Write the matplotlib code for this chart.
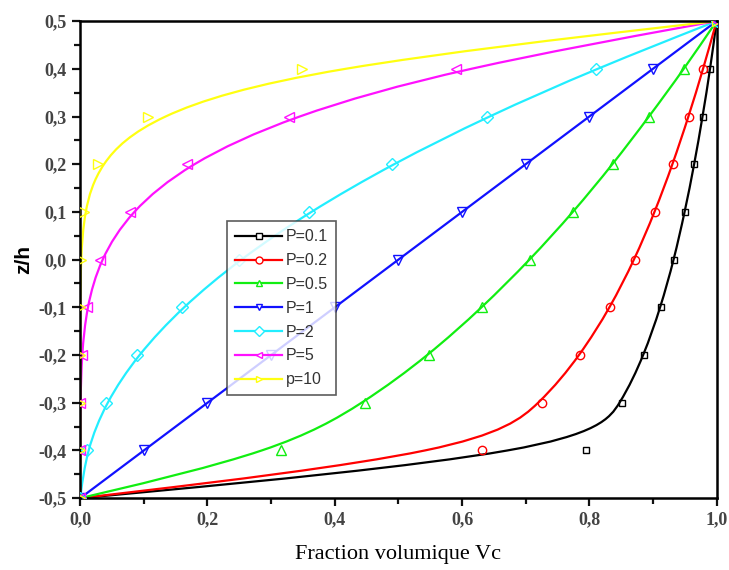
import numpy as np
import matplotlib.pyplot as plt
from matplotlib.path import Path
from matplotlib.patches import PathPatch
from matplotlib.lines import Line2D
from matplotlib.ticker import MultipleLocator, FuncFormatter

# z/h positions (same for every curve)
z_h = [-0.5, -0.4, -0.3, -0.2, -0.1, 0.0, 0.1, 0.2, 0.3, 0.4, 0.5]

# volume fraction Vc for each exponent p
vc_p01 = [0.0, 0.794, 0.851, 0.886, 0.912, 0.933, 0.950, 0.965, 0.978, 0.990, 1.0]
vc_p02 = [0.0, 0.631, 0.725, 0.786, 0.833, 0.871, 0.903, 0.931, 0.956, 0.979, 1.0]
vc_p05 = [0.0, 0.316, 0.447, 0.548, 0.632, 0.707, 0.775, 0.837, 0.894, 0.949, 1.0]
vc_p1 = [0.0, 0.1, 0.2, 0.3, 0.4, 0.5, 0.6, 0.7, 0.8, 0.9, 1.0]
vc_p2 = [0.0, 0.01, 0.04, 0.09, 0.16, 0.25, 0.36, 0.49, 0.64, 0.81, 1.0]
vc_p5 = [0.0, 0.0, 0.0003, 0.0024, 0.010, 0.031, 0.078, 0.168, 0.328, 0.590, 1.0]
vc_p10 = [0.0, 0.0, 0.0, 0.0, 0.0001, 0.001, 0.006, 0.028, 0.107, 0.349, 1.0]

labels = ['P=0.1', 'P=0.2', 'P=0.5', 'P=1', 'P=2', 'P=5', 'p=10']
series = [vc_p01, vc_p02, vc_p05, vc_p1, vc_p2, vc_p5, vc_p10]
colors = ['#000000', '#ff0000', '#11ee11', '#1111ff', '#22eeff', '#ff11ff', '#ffff11']
markers = ['s', 'o', '^', 'v', 'D', '<', '>']
msizes = [5, 6, 7, 7, 6, 7, 7]


def bspline_path(xs, ys):
    # clamped cubic B-spline, written as bezier pieces
    p = [np.array(q) for q in zip(xs, ys)]
    p = [p[0], p[0]] + p + [p[-1], p[-1]]
    verts, codes = [], []
    for i in range(1, len(p) - 2):
        a, b, c, d = p[i - 1], p[i], p[i + 1], p[i + 2]
        b0 = (a + 4 * b + c) / 6
        b1 = (2 * b + c) / 3
        b2 = (b + 2 * c) / 3
        b3 = (b + 4 * c + d) / 6
        if not verts:
            verts.append(b0)
            codes.append(Path.MOVETO)
        verts += [b1, b2, b3]
        codes += [Path.CURVE4] * 3
    return Path(verts, codes)


fig = plt.figure(figsize=(7.29, 5.70), dpi=100)
ax = fig.add_axes([0.110, 0.126, 0.873, 0.837])

for xs, c, m, ms in zip(series, colors, markers, msizes):
    ax.add_patch(PathPatch(bspline_path(xs, z_h), facecolor='none',
                           edgecolor=c, lw=1.6, zorder=2))
    ax.plot(xs, z_h, ls='none', marker=m, ms=ms, mfc='none', mec=c,
            mew=1.0, zorder=3)

ax.set_xlim(0, 1)
ax.set_ylim(-0.5, 0.5)
ax.xaxis.set_major_locator(MultipleLocator(0.2))
ax.xaxis.set_minor_locator(MultipleLocator(0.1))
ax.yaxis.set_major_locator(MultipleLocator(0.1))
ax.yaxis.set_minor_locator(MultipleLocator(0.05))
fmt = FuncFormatter(lambda v, pos: ('%.1f' % v).replace('.', ','))
ax.xaxis.set_major_formatter(fmt)
ax.yaxis.set_major_formatter(fmt)

ax.tick_params(which='both', direction='out', width=1.6, colors='#111111',
               top=False, right=False)
ax.tick_params(which='major', length=6)
ax.tick_params(which='minor', length=4)
for t in ax.get_xticklabels() + ax.get_yticklabels():
    t.set_fontfamily('Liberation Serif')
    t.set_fontweight('bold')
    t.set_fontsize(13)
    t.set_color('#444444')
for s in ax.spines.values():
    s.set_linewidth(1.8)

ax.set_xlabel('Fraction volumique Vc', fontfamily='Liberation Serif',
              fontsize=16, labelpad=12)
ax.set_ylabel('z/h', fontfamily='Liberation Sans', fontweight='bold',
              fontsize=15, labelpad=4)

handles = [Line2D([], [], color=c, lw=1.6, marker=m, ms=5, mfc='white',
                  mec=c, mew=1.0) for c, m in zip(colors, markers)]
leg = ax.legend(handles, labels, loc='upper left', bbox_to_anchor=(0.23, 0.58),
                borderaxespad=0, frameon=True, fancybox=False, handlelength=3.0,
                handletextpad=0.2, labelspacing=0.55, borderpad=0.5,
                prop={'family': 'Liberation Sans', 'size': 11.5})
leg.get_frame().set_edgecolor('#333333')
leg.get_frame().set_linewidth(1.2)
for t in leg.get_texts():
    t.set_color('#333333')

fig.savefig('out.png', dpi=100)
